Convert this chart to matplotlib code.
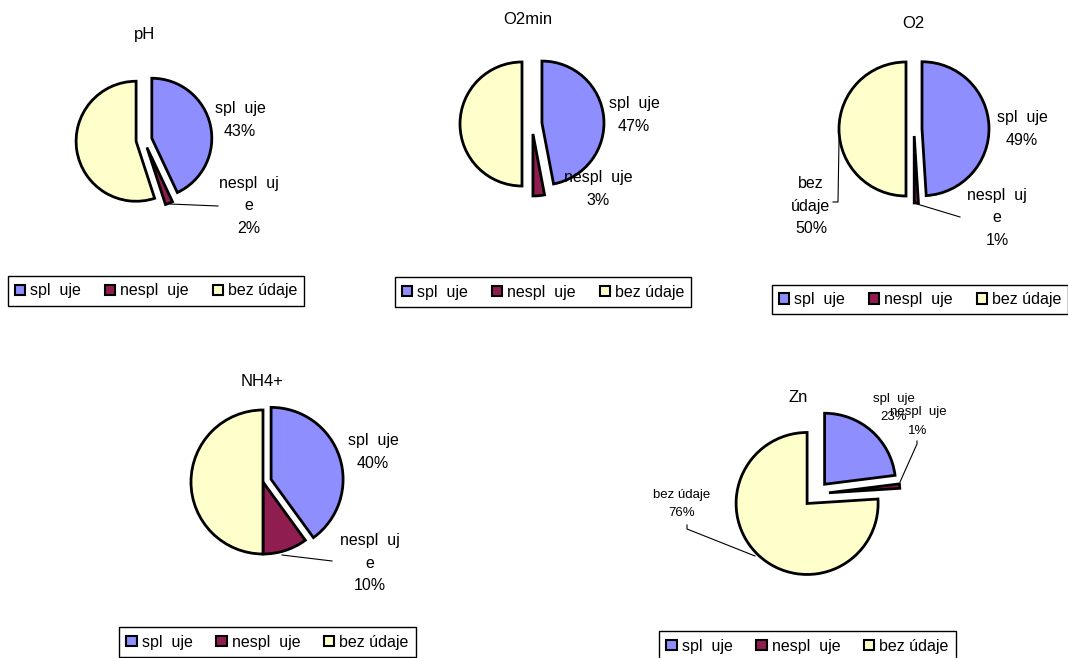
import matplotlib
matplotlib.use("Agg")
import matplotlib.pyplot as plt

plt.rcParams['font.family'] = ['Liberation Sans', 'DejaVu Sans']

# ---------------- data ----------------
charts = ["pH", "O2min", "O2", "NH4+", "Zn"]
spl = [43, 47, 49, 40, 23]          # splňuje (%)
nespl = [2, 3, 1, 10, 1]            # nesplňuje (%)
bez = [55, 50, 50, 50, 76]          # bez údaje (%)
legend_labels = ["spl  uje", "nespl  uje", "bez údaje"]
colors = ["#8e8eff", "#8f1d50", "#ffffcc"]

# ---------------- layout (pixels, y measured from top) ----------------
W, H = 1068, 658
layout = {
    "pH": dict(center=(144, 140), r=60, explode=(8, 8, 8), title=(145, 34), fs=11.5, ls=1.62,
               labels=[("spl  uje", (240, 120)), ("nespl  uj\ne", (249, 206)), None],
               leaders=[[(170, 204), (218, 206)]], legend=(156, 291)),
    "O2min": dict(center=(532, 124), r=62, explode=(10, 10, 10), title=(528, 20), fs=11.5, ls=1.62,
                  labels=[("spl  uje", (634, 115)), ("nespl  uje", (598, 189)), None],
                  leaders=[], legend=(543, 292)),
    "O2": dict(center=(914, 129), r=67, explode=(8, 7, 8), title=(913, 24), fs=11.5, ls=1.62,
               labels=[("spl  uje", (1022, 129)), ("nespl  uj\ne", (997, 218)),
                       ("bez\núdaje", (811, 206))],
               leaders=[[(917, 204), (960, 217)], [(833, 202), (838, 202), (839, 140)]],
               legend=(920, 299.5)),
    "NH4+": dict(center=(263, 482), r=72, explode=(8.5, 0, 0), title=(262, 382), fs=11.5, ls=1.62,
                 labels=[("spl  uje", (373, 452)), ("nespl  uj\ne", (370, 563)), None],
                 leaders=[[(282, 555), (332, 561)]], legend=(267.5, 642)),
    "Zn": dict(center=(816, 494), r=71, explode=(13, 13, 13), title=(798, 398), fs=9.5, ls=1.7,
               labels=[("spl  uje", (894, 408)), ("nespl  uje", (918, 421.5)),
                       ("bez údaje", (682, 504))],
               leaders=[[(917, 441), (917, 444), (900, 482)],
                        [(687, 525), (687, 529), (755, 556)]],
               legend=(807.5, 646)),
}

fig = plt.figure(figsize=(W / 100, H / 100), dpi=100)
ax = fig.add_axes([0, 0, 1, 1])

legends = []
for i, name in enumerate(charts):
    L = layout[name]
    vals = [spl[i], nespl[i], bez[i]]
    cx, cy = L["center"]
    wedges, _ = ax.pie(vals, colors=colors, startangle=90, counterclock=False,
                       center=(cx, H - cy), radius=L["r"], explode=L["explode"],
                       wedgeprops=dict(edgecolor="black", linewidth=2.0),
                       frame=False)
    ax.text(L["title"][0], H - L["title"][1], name, ha="center", va="center", fontsize=12)
    for v, lab in zip(vals, L["labels"]):
        if lab is None:
            continue
        txt, (tx, ty) = lab
        ax.text(tx, H - ty, f"{txt}\n{v}%", ha="center", va="center",
                fontsize=L["fs"], linespacing=L["ls"])
    for seg in L["leaders"]:
        ax.plot([p[0] for p in seg], [H - p[1] for p in seg], color="black", lw=0.8)
    lx, ly = L["legend"]
    leg = ax.legend(wedges, legend_labels, loc="center", bbox_to_anchor=(lx, H - ly),
                    bbox_transform=ax.transData, ncol=3, fontsize=11.5, frameon=True,
                    fancybox=False, edgecolor="black", framealpha=1, shadow=False,
                    handlelength=0.65, handleheight=0.65, handletextpad=0.3,
                    columnspacing=1.5, borderpad=0.45, borderaxespad=0)
    leg.get_frame().set_linewidth(1.0)
    for h in leg.legend_handles:
        h.set_linewidth(1.5)
    legends.append(leg)

for leg in legends[:-1]:
    ax.add_artist(leg)

ax.set_xlim(0, W)
ax.set_ylim(0, H)
ax.set_aspect("auto")
ax.axis("off")
fig.savefig("out.png", dpi=100)
